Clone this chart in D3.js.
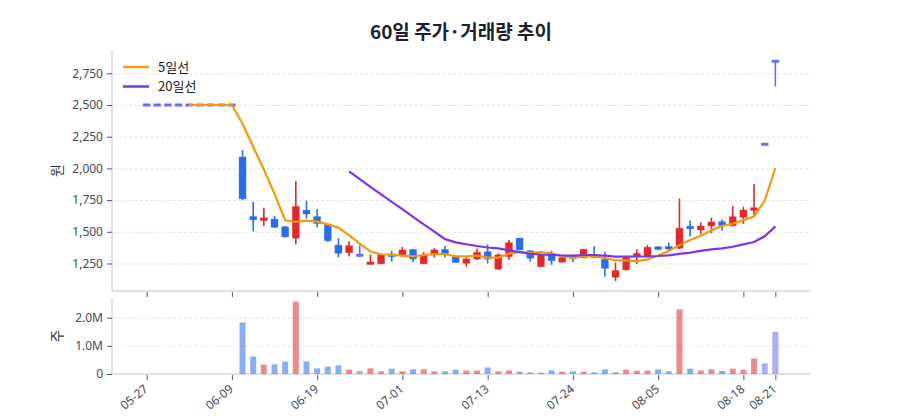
<!DOCTYPE html>
<html>
<head>
<meta charset="utf-8">
<script src="https://cdn.jsdelivr.net/npm/d3@7"></script>
<style>
  body { margin: 0; background: #fff; }
  svg { font-family: "Noto Sans CJK KR", "Noto Sans", sans-serif; }
</style>
</head>
<body>
<div id="chart"></div>
<script>
// 날짜 (60 거래일)
const dates = [
  "05-27","05-28","05-29","05-30","06-02","06-03","06-04","06-05","06-09",
  "06-10","06-11","06-12","06-13","06-16","06-17","06-18","06-19",
  "06-20","06-23","06-24","06-25","06-26","06-27","06-30","07-01",
  "07-02","07-03","07-04","07-07","07-08","07-09","07-10","07-13",
  "07-14","07-15","07-16","07-17","07-18","07-21","07-22","07-24",
  "07-25","07-28","07-29","07-30","07-31","08-01","08-04","08-05",
  "08-06","08-07","08-08","08-11","08-12","08-13","08-14","08-18",
  "08-19","08-20","08-21"
];
const xTickLabels = ["05-27","06-09","06-19","07-01","07-13","07-24","08-05","08-18","08-21"];

const opens = [2500,2500,2500,2500,2500,2500,2500,2500,2500,
  2090,1620,1595,1600,1540,1450,1670,1620,1560,1395,1335,1315,1245,1248,1318,1312,
  1360,1248,1318,1360,1304,1252,1285,1343,1205,1305,1450,1350,1225,1316,1260,1300,
  1296,1310,1283,1141,1200,1304,1304,1375,1378,1370,1538,1514,1546,1580,1548,1614,
  1668,2190,2845];
const highs = [2500,2500,2500,2500,2500,2500,2500,2500,2500,
  2145,1735,1690,1625,1545,1900,1745,1680,1565,1450,1425,1394,1320,1325,1350,1380,
  1365,1340,1373,1390,1306,1300,1367,1400,1330,1435,1452,1355,1320,1350,1310,1305,
  1365,1386,1343,1257,1300,1362,1396,1388,1414,1764,1590,1575,1612,1598,1703,1698,
  1877,2190,2845];
const lows = [2500,2500,2500,2500,2500,2500,2500,2500,2500,
  1750,1505,1545,1530,1455,1400,1605,1535,1420,1300,1305,1300,1245,1245,1265,1300,
  1260,1245,1297,1297,1255,1225,1278,1252,1200,1278,1355,1265,1224,1240,1258,1260,
  1294,1292,1145,1112,1195,1246,1302,1355,1356,1362,1462,1483,1488,1509,1541,1562,
  1620,2190,2645];
const closes = [2500,2500,2500,2500,2500,2500,2500,2500,2500,
  1760,1595,1605,1535,1460,1700,1640,1565,1430,1330,1390,1315,1260,1320,1310,1357,
  1285,1310,1357,1318,1258,1286,1338,1285,1318,1414,1357,1292,1318,1272,1296,1295,
  1362,1305,1212,1194,1296,1330,1378,1368,1370,1528,1530,1546,1577,1548,1619,1672,
  1690,2190,2845];
const volumes = [0,0,0,0,0,0,0,0,0,
  1830000,620000,330000,345000,440000,2570000,450000,200000,260000,310000,155000,
  110000,200000,95000,190000,95000,165000,165000,95000,95000,155000,
  120000,120000,230000,95000,130000,83000,60000,48000,130000,83000,
  95000,83000,60000,165000,60000,155000,120000,120000,165000,95000,
  2290000,190000,130000,165000,110000,190000,155000,550000,380000,1500000];

// 이동평균
const ma5 = [null,null,null,null,2500,2500,2500,2500,2500,
  2352,2171,1992,1799,1591,1579,1588,1580,1559,1533,1471,1406,1345,1323,1319,1312,
  1306,1316,1324,1325,1306,1306,1311,1297,1297,1328,1342,1333,1340,1331,1307,1295,
  1309,1306,1294,1274,1274,1267,1282,1313,1348,1395,1435,1468,1510,1546,1564,1592,
  1621,1744,2003];
const ma20 = [null,null,null,null,null,null,null,null,null,null,
  null,null,null,null,null,null,null,null,null,1976,
  1916,1854,1795,1736,1679,1618,1558,1501,1442,1417,
  1402,1388,1376,1369,1354,1340,1327,1321,1318,1313,
  1312,1317,1317,1312,1304,1304,1305,1306,1309,1314,
  1326,1336,1349,1362,1369,1382,1401,1419,1465,1543];

const priceTicks = [1250,1500,1750,2000,2250,2500,2750];
const volTicks = [0,1000000,2000000];
const volTickLabels = ["0","1.0M","2.0M"];

const W = 900, H = 420;
const left = 112, right = 810;
const pTop = 50, pBottom = 291, vTop = 298, vBottom = 374;

const UP = "#e0292b", DOWN = "#2a6de6", FLAT = "#6b6cf2";
const color = i => closes[i] > opens[i] ? UP : (closes[i] < opens[i] ? DOWN : FLAT);

const svg = d3.select("#chart").append("svg")
    .attr("width", W)
    .attr("height", H);

const x = d3.scalePoint().domain(dates).range([left, right]).padding(3.25);
const y = d3.scaleLinear().domain([1033, 2934]).range([pBottom, pTop]);
const yv = d3.scaleLinear().domain([0, 2700000]).range([vBottom, vTop]);

// 제목
svg.append("text")
    .attr("x", (left + right) / 2).attr("y", 39)
    .attr("text-anchor", "middle")
    .style("font-size", "19px").style("font-weight", "bold").style("fill", "#1c1f2b")
    .text("60일 주가·거래량 추이");

// 격자선
function grid(scale, ticks) {
    svg.append("g")
        .attr("transform", `translate(${left},0)`)
        .call(d3.axisLeft(scale).tickValues(ticks).tickSize(-(right - left)).tickFormat(""))
        .call(g => g.select(".domain").remove())
        .selectAll(".tick line")
        .style("stroke", "#e3e5ea").style("stroke-dasharray", "3.5,2").style("stroke-width", 1);
}
grid(y, priceTicks);
grid(yv, volTicks.slice(1));

// 축선
const axisColor = "#d3d7df";
[[pTop, pBottom], [vTop, vBottom]].forEach(([t, b]) => {
    svg.append("line").attr("x1", left).attr("x2", left).attr("y1", t).attr("y2", b)
        .style("stroke", axisColor).style("stroke-width", 1.5);
    svg.append("line").attr("x1", left).attr("x2", right).attr("y1", b).attr("y2", b)
        .style("stroke", axisColor).style("stroke-width", 1.5);
});

function styleAxis(g) {
    g.select(".domain").remove();
    g.selectAll(".tick line").style("stroke", "#555").style("stroke-width", 1);
    g.selectAll(".tick text").style("fill", "#454a56").style("font-size", "12px")
        .style("font-family", "'Noto Sans', sans-serif");
}

svg.append("g")
    .attr("transform", `translate(${left},0)`)
    .call(d3.axisLeft(y).tickValues(priceTicks).tickSize(5).tickPadding(4).tickFormat(d3.format(",")))
    .call(styleAxis);

svg.append("g")
    .attr("transform", `translate(${left},0)`)
    .call(d3.axisLeft(yv).tickValues(volTicks).tickSize(5).tickPadding(4)
        .tickFormat((d, i) => volTickLabels[i]))
    .call(styleAxis);

svg.append("g")
    .attr("transform", `translate(0,${pBottom + 1})`)
    .call(d3.axisBottom(x).tickValues(xTickLabels).tickSize(5).tickFormat(""))
    .call(styleAxis);

svg.append("g")
    .attr("transform", `translate(0,${vBottom + 1})`)
    .call(d3.axisBottom(x).tickValues(xTickLabels).tickSize(5))
    .call(styleAxis)
    .selectAll(".tick text")
    .attr("x", 0).attr("y", 0).attr("dy", "0.35em")
    .attr("text-anchor", "end")
    .attr("transform", "translate(-1,12) rotate(-40)");

// 축 제목
svg.append("text")
    .attr("transform", `translate(62,${(pTop + pBottom) / 2}) rotate(-90)`)
    .attr("text-anchor", "middle")
    .style("font-size", "14px").style("fill", "#333")
    .text("원");
svg.append("text")
    .attr("transform", `translate(62,${(vTop + vBottom) / 2}) rotate(-90)`)
    .attr("text-anchor", "middle")
    .style("font-size", "14px").style("fill", "#333")
    .text("주");

// 거래량 막대
svg.append("g").selectAll("rect")
    .data(dates.map((d, i) => i).filter(i => volumes[i] > 0))
    .enter().append("rect")
    .attr("x", i => x(dates[i]) - 3)
    .attr("width", 6)
    .attr("y", i => yv(volumes[i]))
    .attr("height", i => vBottom - yv(volumes[i]))
    .style("fill", i => color(i))
    .style("opacity", 0.55);

// 캔들
const candles = svg.append("g").selectAll("g")
    .data(dates.map((d, i) => i))
    .enter().append("g");

candles.append("line")
    .attr("x1", i => x(dates[i])).attr("x2", i => x(dates[i]))
    .attr("y1", i => y(highs[i])).attr("y2", i => y(lows[i]))
    .style("stroke", i => color(i)).style("stroke-width", 1.6);

candles.append("rect")
    .attr("x", i => x(dates[i]) - 3.5)
    .attr("width", 7)
    .attr("y", i => {
        const h = Math.abs(y(opens[i]) - y(closes[i]));
        return h < 2.6 ? (y(opens[i]) + y(closes[i])) / 2 - 1.3 : y(Math.max(opens[i], closes[i]));
    })
    .attr("height", i => Math.max(2.6, Math.abs(y(opens[i]) - y(closes[i]))))
    .style("fill", i => color(i))
    .style("stroke", i => color(i)).style("stroke-opacity", 0.35).style("stroke-width", 1);

// 이동평균선
const line = d3.line()
    .defined(d => d.v != null)
    .x(d => x(d.date))
    .y(d => y(d.v));

svg.append("path")
    .datum(dates.map((date, i) => ({date, v: ma5[i]})))
    .attr("d", line)
    .style("fill", "none").style("stroke", "#f29a0c").style("stroke-width", 2.2);

svg.append("path")
    .datum(dates.map((date, i) => ({date, v: ma20[i]})))
    .attr("d", line)
    .style("fill", "none").style("stroke", "#7a35ea").style("stroke-width", 2.2);

// 범례
const legend = [["5일선", "#f29a0c"], ["20일선", "#7a35ea"]];
legend.forEach(([name, c], i) => {
    const ly = 67 + i * 19.5;
    svg.append("line").attr("x1", 123).attr("x2", 149).attr("y1", ly).attr("y2", ly)
        .style("stroke", c).style("stroke-width", 2.5);
    svg.append("text").attr("x", 158).attr("y", ly + 4.5)
        .style("font-size", "13px").style("fill", "#222")
        .text(name);
});
</script>
</body>
</html>
